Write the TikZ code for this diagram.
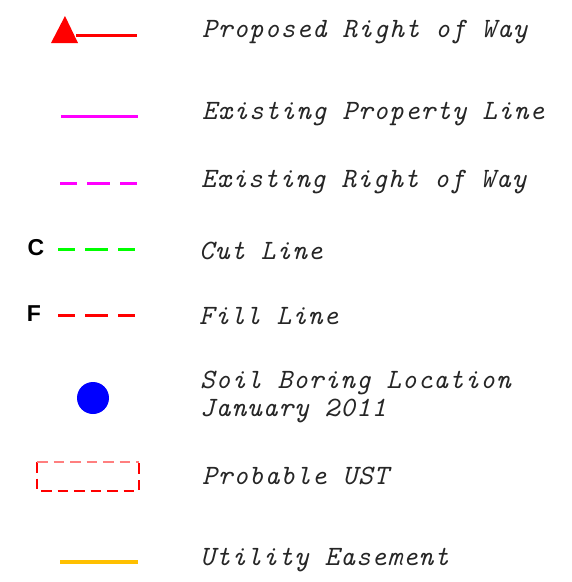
\documentclass[tikz,border=0pt]{standalone}
\usepackage{fontspec}
\usepackage{xcolor}
\usepackage{tikz}
\newfontfamily\markfont{Liberation Sans}
\newfontfamily\cadfont{lmmono10-italic.otf}[LetterSpace=3.5]
\definecolor{rowmagenta}{HTML}{FF00FF}
\definecolor{cutgreen}{HTML}{00FF00}
\definecolor{easeorange}{HTML}{FFC000}
\definecolor{ustpink}{HTML}{FF7F7F}

\begin{document}
\begin{tikzpicture}[x=1pt, y=-1pt,
  legendtext/.style={anchor=base west, inner sep=0pt, text=black!85,
    font=\fontsize{28}{30}\selectfont\cadfont},
  letterbox/.style={inner sep=0pt, font=\fontsize{23}{24}\selectfont\markfont\bfseries},
  legendline/.style={line width=3pt},
  shortdash/.style={dash pattern=on 23pt off 10pt, dash phase=6pt}]
  \useasboundingbox (0,0) rectangle (572,582);
  % Proposed right of way
  \fill[red] (65,16) -- (78,43) -- (51,43) -- cycle;
  \draw[red, line width=3pt] (76,35) -- (137,35);
  \node[legendtext] (propRow) at (202,37) {Proposed Right of Way};
  % Existing property line
  \draw[legendline, rowmagenta] (61,116) -- (138,116);
  \node[legendtext] (propLine) at (202,119.5) {Existing Property Line};
  % Existing right of way
  \draw[legendline, rowmagenta, shortdash] (60,183) -- (137,183);
  \node[legendtext] (existRow) at (201,187.5) {Existing Right of Way};
  % Cut line
  \node[letterbox] (cutMark) at (36,248) {C};
  \draw[legendline, cutgreen, shortdash] (58,249) -- (135,249);
  \node[legendtext] (cutLine) at (199,259.5) {Cut Line};
  % Fill line
  \node[letterbox] (fillMark) at (34,314) {F};
  \draw[legendline, red, shortdash] (58,315) -- (135,315);
  \node[legendtext] (fillLine) at (199,324.5) {Fill Line};
  % Soil boring
  \fill[blue] (93,398) circle (16);
  \node[legendtext] (soilBoring) at (200,388.5) {Soil Boring Location};
  \node[legendtext] (soilDate) at (200,416.5) {January 2011};
  % Probable UST
  \draw[red, line width=1.2pt, dash pattern=on 10.5pt off 6pt]
    (37,462) -- (37,491) -- (139,491) -- (139,462);
  \draw[ustpink, line width=1.2pt, dash pattern=on 10.5pt off 6pt]
    (37,462) -- (139,462);
  \node[legendtext] (probUst) at (202,484) {Probable UST};
  % Utility easement
  \draw[legendline, easeorange, line width=3.5pt] (60,562) -- (138,562);
  \node[legendtext] (utilEase) at (200,565) {Utility Easement};
\end{tikzpicture}
\end{document}
